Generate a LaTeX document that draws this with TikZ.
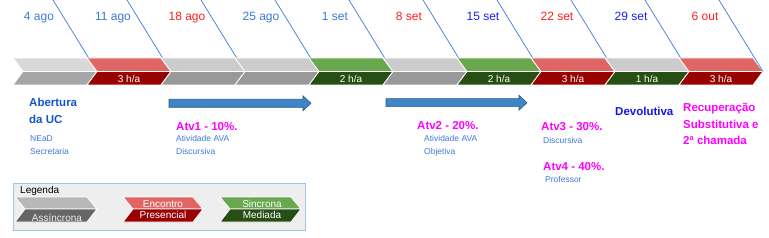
\documentclass[tikz,border=0pt]{standalone}
\usepackage{fontspec}
\setmainfont{Liberation Sans}
\usepackage{tikz}
\usepackage{xcolor}
\usetikzlibrary{positioning,calc}
\definecolor{tlgraylt}{RGB}{217,217,217}
\definecolor{tlgraymd}{RGB}{166,166,166}
\definecolor{tlgray}{RGB}{204,204,204}
\definecolor{tlgraydk}{RGB}{153,153,153}
\definecolor{tlred}{RGB}{224,102,102}
\definecolor{tlreddk}{RGB}{153,0,0}
\definecolor{tlgreen}{RGB}{106,168,79}
\definecolor{tlgreendk}{RGB}{39,78,19}
\definecolor{lggray}{RGB}{183,183,183}
\definecolor{lggraydk}{RGB}{102,102,102}
\definecolor{datblue}{RGB}{60,120,216}
\definecolor{datred}{RGB}{255,30,30}
\definecolor{datdeep}{RGB}{30,30,240}
\definecolor{ucblue}{RGB}{17,85,204}
\definecolor{devblue}{RGB}{20,20,230}
\definecolor{atvmag}{RGB}{255,0,255}
\definecolor{arfill}{RGB}{61,133,198}
\definecolor{arline}{RGB}{45,90,140}
\definecolor{lgfill}{RGB}{238,238,238}
\definecolor{lgline}{RGB}{159,197,232}

% chevron: left point, right point, top, middle, bottom, upper colour, lower colour
\newcommand{\chevron}[7]{%
  \filldraw[chevline, fill=#6] (#1-10,#3) -- (#2-10,#3) -- (#2,#4) -- (#1,#4) -- cycle;
  \filldraw[chevline, fill=#7] (#1,#4) -- (#2,#4) -- (#2-10,#5) -- (#1-10,#5) -- cycle;}
% block arrow between two named coordinates
\newcommand{\blockarrow}[2]{%
  \filldraw[blockar] ($(#1)+(0,-4)$) -- ($(#2)+(-8,-4)$) -- ($(#2)+(-8,-7.5)$) -- (#2)
    -- ($(#2)+(-8,7.5)$) -- ($(#2)+(-8,4)$) -- ($(#1)+(0,4)$) -- cycle;}

\begin{document}
\begin{tikzpicture}[x=1pt, y=-1pt,
    chevline/.style={draw=white, line width=0.8pt},
    hours/.style={text=white, font=\fontsize{10}{12}\selectfont, anchor=base, inner sep=0pt},
    datelbl/.style={font=\fontsize{12}{14}\selectfont, anchor=base, inner sep=0pt},
    dateline/.style={draw=datblue, line width=0.7pt},
    headtxt/.style={font=\bfseries\fontsize{11.5}{14}\selectfont, anchor=base west, inner sep=0pt},
    notetxt/.style={text=datblue, font=\fontsize{8.5}{10}\selectfont, anchor=base west, inner sep=0pt},
    blockar/.style={fill=arfill, draw=arline, line width=0.6pt},
    legtxt/.style={font=\fontsize{10}{12}\selectfont, anchor=base, inner sep=0pt}
  ]
  \useasboundingbox (0,0) rectangle (769,238);

  % timeline
  \foreach \i/\tp/\bt/\hr/\lbl/\clr in {
      1/tlgraylt/tlgraymd/{}/4 ago/datblue,
      2/tlred/tlreddk/{3 h/a}/11 ago/datblue,
      3/tlgray/tlgraydk/{}/18 ago/datred,
      4/tlgray/tlgraydk/{}/25 ago/datblue,
      5/tlgreen/tlgreendk/{2 h/a}/1 set/datblue,
      6/tlgray/tlgraydk/{}/8 set/datred,
      7/tlgreen/tlgreendk/{2 h/a}/15 set/datdeep,
      8/tlred/tlreddk/{3 h/a}/22 set/datred,
      9/tlgray/tlgreendk/{1 h/a}/29 set/datdeep,
      10/tlred/tlreddk/{3 h/a}/6 out/datred}{
    \pgfmathsetmacro{\px}{23+74*\i}
    \pgfmathsetmacro{\qx}{\px-74}
    \chevron{\qx}{\px}{58}{71.5}{85}{\tp}{\bt}
    \node[hours] (h\i) at ({(\qx+\px)/2-5},82) {\hr};
    \node[datelbl, text=\clr] (d\i) at (\px-58,21) {\lbl};
    \coordinate (t\i) at (\px-44,0);
    \coordinate (p\i) at (\px,71.5);
    \draw[dateline] (t\i) -- (p\i);
  }

  % periods
  \coordinate (a1s) at (169,103.3);
  \coordinate (a1e) at (311,103.3);
  \coordinate (a2s) at (386,102.7);
  \coordinate (a2e) at (527,102.7);
  \blockarrow{a1s}{a1e}
  \blockarrow{a2s}{a2e}

  % activities
  \node[headtxt, text=ucblue] (uc1) at (29,106.7) {Abertura};
  \node[headtxt, text=ucblue] (uc2) at (29,123.3) {da UC};
  \node[notetxt] (ucn1) at (30,141) {NEaD};
  \node[notetxt] (ucn2) at (30,154) {Secretaria};
  \node[headtxt, text=atvmag] (atv1) at (176,130) {Atv1 - 10\%.};
  \node[notetxt] (atv1a) at (176,141.5) {Atividade AVA};
  \node[notetxt] (atv1b) at (176,154) {Discursiva};
  \node[headtxt, text=atvmag] (atv2) at (417,129) {Atv2 - 20\%.};
  \node[notetxt] (atv2a) at (424,141.7) {Atividade AVA};
  \node[notetxt] (atv2b) at (424,154) {Objetiva};
  \node[headtxt, text=atvmag] (atv3) at (541,130) {Atv3 - 30\%.};
  \node[notetxt] (atv3a) at (543,143) {Discursiva};
  \node[headtxt, text=atvmag] (atv4) at (543,170) {Atv4 - 40\%.};
  \node[notetxt] (atv4a) at (545,182) {Professor};
  \node[headtxt, text=devblue] (dev) at (615,116) {Devolutiva};
  \node[headtxt, text=atvmag] (rec1) at (683,111.7) {Recuperação};
  \node[headtxt, text=atvmag] (rec2) at (683,128.3) {Substitutiva e};
  \node[headtxt, text=atvmag] (rec3) at (683,144.3) {2ª chamada};

  % legend
  \filldraw[fill=lgfill, draw=lgline, line width=0.8pt] (13,183) rectangle (305,230);
  \node[anchor=base west, inner sep=0pt, font=\fontsize{10}{12}\selectfont] (leg) at (20,193) {Legenda};
  \chevron{25}{97}{197}{209}{222}{lggray}{lggraydk}
  \chevron{133}{203}{197}{209}{222}{tlred}{tlreddk}
  \chevron{230}{301}{197}{209}{222}{tlgreen}{tlgreendk}
  \node[legtxt, text=lgfill] (lasy) at (57,221) {Assíncrona};
  \node[legtxt, text=white] (lenc) at (163,207) {Encontro};
  \node[legtxt, text=white] (lpre) at (163,218) {Presencial};
  \node[legtxt, text=white] (lsin) at (262,207) {Sincrona};
  \node[legtxt, text=white] (lmed) at (262,218) {Mediada};
\end{tikzpicture}
\end{document}
